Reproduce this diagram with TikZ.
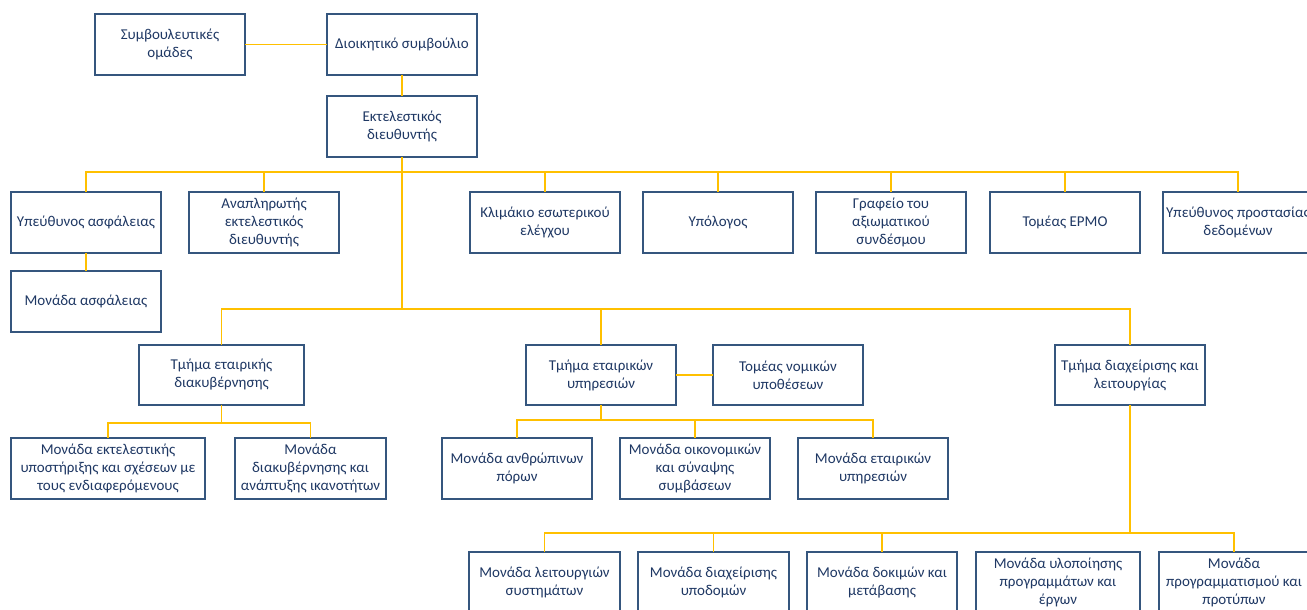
\documentclass[tikz,border=0pt]{standalone}
\usepackage{fontspec}
\setmainfont{Carlito}
\definecolor{bord}{HTML}{35567E}
\definecolor{txt}{HTML}{1F3864}
\definecolor{gold}{HTML}{FFC000}
\tikzset{
  bx/.style={draw=bord, line width=1.2pt, fill=white, rectangle, inner sep=0pt, outer sep=0pt,
    align=center, text=txt, font=\fontsize{15}{18}\selectfont},
  ln/.style={draw=gold, line width=1.2pt}
}
\newcommand\obox[6]{\node[bx, minimum width={#4-#2}, minimum height={#5-#3}] (#1) at ({(#2+#4)/2},{(#3+#5)/2}) {#6};}
\begin{document}
\begin{tikzpicture}[x=1pt,y=-1pt]
\path[use as bounding box] (0,0) rectangle (1307,610);
\clip (0,0) rectangle (1307,610);
\coordinate (r2) at (0,172);
\coordinate (r3) at (0,309);
\coordinate (r4a) at (0,423);
\coordinate (r4b) at (0,420);
\coordinate (r5) at (0,533);
% boxes
\obox{sym}{95}{14}{245}{75}{Συμβουλευτικές\\ομάδες}
\obox{board}{327}{14}{477}{75}{Διοικητικό συμβούλιο}
\obox{ed}{327}{96}{477}{157}{Εκτελεστικός\\διευθυντής}
\obox{ya}{11}{192}{161}{253}{Υπεύθυνος ασφάλειας}
\obox{anap}{189}{192}{339}{253}{Αναπληρωτής\\εκτελεστικός\\διευθυντής}
\obox{klim}{470}{192}{620}{253}{Κλιμάκιο εσωτερικού\\ελέγχου}
\obox{ypol}{643}{192}{793}{253}{Υπόλογος}
\obox{graf}{816}{192}{966}{253}{Γραφείο του\\αξιωματικού\\συνδέσμου}
\obox{epmo}{990}{192}{1140}{253}{Τομέας EPMO}
\obox{ypp}{1163}{192}{1313}{253}{Υπεύθυνος προστασίας\\δεδομένων}
\obox{ma}{11}{271}{161}{332}{Μονάδα ασφάλειας}
\obox{tek}{139}{345}{304}{405}{Τμήμα εταιρικής\\διακυβέρνησης}
\obox{tey}{526}{345}{676}{405}{Τμήμα εταιρικών\\υπηρεσιών}
\obox{tno}{713}{345}{863}{405}{Τομέας νομικών\\υποθέσεων}
\obox{tdl}{1055}{345}{1205}{405}{Τμήμα διαχείρισης και\\λειτουργίας}
\obox{mek}{11}{438}{205}{499}{Μονάδα εκτελεστικής\\υποστήριξης και σχέσεων με\\τους ενδιαφερόμενους}
\obox{mdk}{235}{438}{386}{499}{Μονάδα\\διακυβέρνησης και\\ανάπτυξης ικανοτήτων}
\obox{man}{442}{438}{592}{499}{Μονάδα ανθρώπινων\\πόρων}
\obox{mok}{620}{438}{770}{499}{Μονάδα οικονομικών\\και σύναψης\\συμβάσεων}
\obox{mey}{798}{438}{948}{499}{Μονάδα εταιρικών\\υπηρεσιών}
\obox{b1}{469}{552}{620}{613}{Μονάδα λειτουργιών\\συστημάτων}
\obox{b2}{638}{552}{789}{613}{Μονάδα διαχείρισης\\υποδομών}
\obox{b3}{807}{552}{957}{613}{Μονάδα δοκιμών και\\μετάβασης}
\obox{b4}{976}{552}{1140}{613}{Μονάδα υλοποίησης\\προγραμμάτων και\\έργων}
\obox{b5}{1159}{552}{1309}{613}{Μονάδα\\προγραμματισμού και\\προτύπων}
% connectors
\draw[ln] (sym.east) -- (board.west);
\draw[ln] (board.south) -- (ed.north);
\draw[ln] (ed.south) -- (ed.south |- r3);
\draw[ln] (ya.north) -- (ya.north |- r2) -- (ypp.north |- r2) -- (ypp.north);
\foreach \n in {anap,klim,ypol,graf,epmo} \draw[ln] (\n.north) -- (\n.north |- r2);
\draw[ln] (ya.south) -- (ma.north);
\draw[ln] (tek.north) -- (tek.north |- r3) -- (tdl.north |- r3) -- (tdl.north);
\draw[ln] (tey.north) -- (tey.north |- r3);
\draw[ln] (tey.east) -- (tno.west);
\draw[ln] (tek.south) -- (tek.south |- r4a);
\draw[ln] (mek.north) -- (mek.north |- r4a) -- (mdk.north |- r4a) -- (mdk.north);
\draw[ln] (tey.south) -- (tey.south |- r4b);
\draw[ln] (man.north) -- (man.north |- r4b) -- (mey.north |- r4b) -- (mey.north);
\draw[ln] (mok.north) -- (mok.north |- r4b);
\draw[ln] (tdl.south) -- (tdl.south |- r5);
\draw[ln] (b1.north) -- (b1.north |- r5) -- (b5.north |- r5) -- (b5.north);
\draw[ln] (b2.north) -- (b2.north |- r5);
\draw[ln] (b3.north) -- (b3.north |- r5);
\end{tikzpicture}
\end{document}
